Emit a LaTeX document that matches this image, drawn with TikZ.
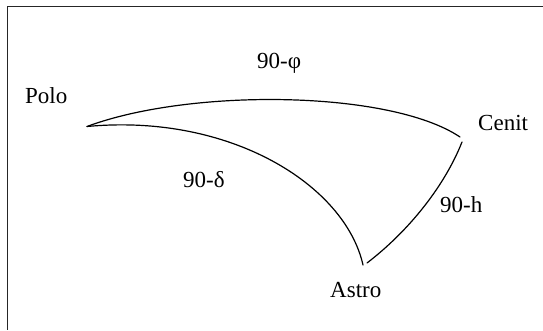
\documentclass[tikz,border=0pt]{standalone}
\usepackage{fontspec}
\setmainfont{Liberation Serif}
\tikzset{
  lbl/.style={anchor=base west,inner sep=0pt,font=\fontsize{23}{27}\selectfont},
  arc/.style={line width=1.2pt,line join=round,line cap=round}
}
\begin{document}
\begin{tikzpicture}[x=1pt,y=-1pt]
  \useasboundingbox (0,0) rectangle (543,330);
  % frame, top and left only
  \draw[line width=1.4pt,black!85] (543,6.5) -- (7.5,6.5) -- (7.5,330);
  % vertices of the triangle
  \coordinate (P)  at (87,126.5);
  \coordinate (Z1) at (460,137);
  \coordinate (Z2) at (462,142);
  \coordinate (A1) at (363,265);
  \coordinate (A2) at (367,263);
  % labels
  \node[lbl] (polo)  at (25,103)  {Polo};
  \node[lbl] (cenit) at (478,130) {Cenit};
  \node[lbl] (astro) at (330,297) {Astro};
  \node[lbl] (phi)   at (257,68)  {90-φ};
  \node[lbl] (delta) at (183,187) {90-δ};
  \node[lbl] (alt)   at (440,212) {90-h};
  % sides
  \draw[arc] (P) .. controls (190,88) and (390,90) .. (Z1);
  \draw[arc] (P) .. controls (230,113) and (345,185) .. (A1);
  \draw[arc] (Z2) .. controls (445,185) and (410,230) .. (A2);
\end{tikzpicture}
\end{document}
